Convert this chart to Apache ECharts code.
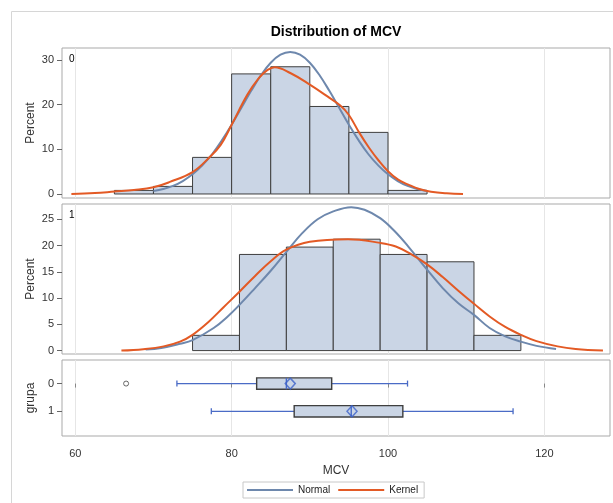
<!DOCTYPE html>
<html><head><meta charset="utf-8">
<script src="https://cdn.jsdelivr.net/npm/echarts@6/dist/echarts.min.js"></script>
<style>html,body{margin:0;padding:0;background:#fff}#c{width:613px;height:503px}</style>
</head><body><div id="c"></div>
<script>
// ---- data ----
const xTicks = [60, 80, 100, 120];
const yTicks0 = [0, 10, 20, 30];
const yTicks1 = [0, 5, 10, 15, 20, 25];
const groups = ['0', '1'];

const edges0 = [65, 70, 75, 80, 85, 90, 95, 100, 105];
const pct0 = [0.8, 1.7, 8.2, 26.9, 28.5, 19.6, 13.8, 0.8];
const edges1 = [75, 81, 87, 93, 99, 105, 111, 117];
const pct1 = [2.9, 18.3, 19.7, 21.2, 18.3, 16.9, 2.9];

const normal0X = [70,71.25,72.5,73.75,75,76.25,77.5,78.75,80,81.25,82.5,83.75,85,86.25,87.5,88.75,90,91.25,92.5,93.75,95,96.25,97.5,98.75,100,101.25,102.5,103.75,105];
const normal0Y = [0.65,1.1,1.8,2.9,4.4,6.4,8.9,12.0,15.5,19.3,23.1,26.6,29.4,31.2,31.8,31.2,29.4,26.6,23.1,19.3,15.5,12.0,8.9,6.4,4.4,2.9,1.8,1.1,0.65];
const kernel0X = [59.5,62.5,65,67.5,70,72.1,75,77.1,78.6,80,82,83.5,84.6,85.5,87.5,90,92.3,93.9,95,96.3,97.6,98.8,100,101.3,102.6,104,105.5,107.5,109.6];
const kernel0Y = [0,0.2,0.55,0.9,1.5,2.7,4.9,8.1,11.0,15.5,22.2,26.0,27.8,28.4,27.1,24.5,21.8,19.8,17.7,13.8,10.3,7.5,5.1,3.2,2.1,1.1,0.5,0.15,0];

const normal1X = [69,71,73.4,75,77.7,79.5,81,83,85,87,89,91,93,95.3,97,99,100.8,102.6,105,107,109,111,113,115,117,119,121.5];
const normal1Y = [0.2,0.5,1.3,2.0,4.3,6.5,8.7,11.9,15.2,18.8,22.3,25.0,26.5,27.3,26.8,25.2,22.8,19.8,15.4,11.9,9.0,6.8,4.3,2.7,1.7,0.9,0.3];
const kernel1X = [65.9,68.7,71.3,73.4,75,77,79,81,83,85,87,90,94.9,99,101,103,105,107,109,111,113,115,117,119,121.7,124,127.5];
const kernel1Y = [0,0.27,0.8,1.7,3.0,5.4,8.3,11.2,14.2,17.0,19.2,20.7,21.2,20.5,19.8,18.3,16.4,14.0,11.4,8.9,6.5,4.5,3.0,1.8,0.8,0.3,0];

const whiskerLow = [73.0, 77.4];
const q1 = [83.2, 88.0];
const median = [87.0, 95.3];
const q3 = [92.8, 101.9];
const whiskerHigh = [102.5, 116.0];
const means = [87.5, 95.4];
const outliers = [[66.5, 0]];

// ---- styles / layout ----
const FONT = 'Liberation Sans, Arial, sans-serif';
const BLUE = '#6e88ad', ORANGE = '#e35a25', FILL = '#cad5e5', EDGE = '#3f3f3f';
const WHISK = '#4a6bc6', FRAME = '#a9a9a9', GRIDC = '#e6e6e6';
const XMIN = 58.3, XMAX = 128.4;
const yRanges = [[-0.9, 32.7], [-0.65, 27.9], [-0.85, 1.89]];

const pairs = (xs, ys) => xs.map((x, i) => [x, ys[i]]);
const bins = (edges, vals) => vals.map((v, i) => [edges[i], edges[i + 1], v]);

function histItem(params, api) {
  const p0 = api.coord([api.value(0), 0]);
  const p1 = api.coord([api.value(1), api.value(2)]);
  return { type: 'rect', shape: { x: p0[0], y: p1[1], width: p1[0] - p0[0], height: p0[1] - p1[1] },
    style: { fill: FILL, stroke: EDGE, lineWidth: 1 } };
}
function boxItem(params, api) {
  const y = api.value(0);
  const pL = api.coord([api.value(1), y]), pA = api.coord([api.value(2), y]),
        pM = api.coord([api.value(3), y]), pB = api.coord([api.value(4), y]),
        pH = api.coord([api.value(5), y]);
  const hh = 5.7, cap = 3;
  const ws = { stroke: WHISK, lineWidth: 1.3 };
  return { type: 'group', children: [
    { type: 'line', shape: { x1: pL[0], y1: pL[1], x2: pA[0], y2: pA[1] }, style: ws },
    { type: 'line', shape: { x1: pB[0], y1: pB[1], x2: pH[0], y2: pH[1] }, style: ws },
    { type: 'line', shape: { x1: pL[0], y1: pL[1] - cap, x2: pL[0], y2: pL[1] + cap }, style: ws },
    { type: 'line', shape: { x1: pH[0], y1: pH[1] - cap, x2: pH[0], y2: pH[1] + cap }, style: ws },
    { type: 'rect', shape: { x: pA[0], y: pA[1] - hh, width: pB[0] - pA[0], height: 2 * hh },
      style: { fill: FILL, stroke: EDGE, lineWidth: 1.4 } },
    { type: 'line', shape: { x1: pM[0], y1: pM[1] - hh, x2: pM[0], y2: pM[1] + hh }, style: { stroke: WHISK, lineWidth: 1.4 } }
  ] };
}

const grids = [
  { left: 62, right: 3, top: 48, height: 150 },
  { left: 62, right: 3, top: 204, height: 150 },
  { left: 62, right: 3, top: 360, height: 76 }
].map(g => Object.assign(g, { show: true, borderColor: FRAME, borderWidth: 1, backgroundColor: 'transparent', containLabel: false }));

const labelStyle = { color: '#333', fontSize: 11, fontFamily: FONT };
const nameStyle = { color: '#333', fontSize: 12, fontFamily: FONT };

const xAxes = [0, 1, 2].map(i => ({
  type: 'value', gridIndex: i, min: XMIN, max: XMAX,
  axisLine: { show: false },
  splitLine: { show: true, lineStyle: { color: GRIDC, width: 1 } },
  axisTick: { show: i === 2, customValues: xTicks, length: 4, lineStyle: { color: '#888' } },
  axisLabel: Object.assign({ show: i === 2, customValues: xTicks, margin: 12 }, labelStyle),
  name: i === 2 ? 'MCV' : '', nameLocation: 'middle', nameGap: 29, nameMoveOverlap: false, nameTextStyle: nameStyle
}));

function yAxis(i, ticks, name, inverse) {
  return {
    type: 'value', gridIndex: i, min: yRanges[i][0], max: yRanges[i][1], inverse: !!inverse,
    axisLine: { show: false }, splitLine: { show: false },
    axisTick: { show: true, customValues: ticks, length: 5, lineStyle: { color: '#666' } },
    axisLabel: Object.assign({ show: true, customValues: ticks, margin: 8 }, labelStyle),
    name: name, nameLocation: 'middle', nameGap: 25, nameMoveOverlap: false, nameTextStyle: nameStyle
  };
}

const series = [];
series.push({ type: 'custom', name: 'hist0', xAxisIndex: 0, yAxisIndex: 0, z: 2, renderItem: histItem,
  data: bins(edges0, pct0), encode: { x: [0, 1], y: 2 } });
series.push({ type: 'custom', name: 'hist1', xAxisIndex: 1, yAxisIndex: 1, z: 2, renderItem: histItem,
  data: bins(edges1, pct1), encode: { x: [0, 1], y: 2 } });
const lineOpts = (name, color, xi, data) => ({
  type: 'line', name: name, xAxisIndex: xi, yAxisIndex: xi, data: data, smooth: 0.4,
  showSymbol: false, symbol: 'none', z: 3, color: color,
  lineStyle: { color: color, width: 2 }
});
series.push(lineOpts('Normal', BLUE, 0, pairs(normal0X, normal0Y)));
series.push(lineOpts('Kernel', ORANGE, 0, pairs(kernel0X, kernel0Y)));
series.push(lineOpts('Normal', BLUE, 1, pairs(normal1X, normal1Y)));
series.push(lineOpts('Kernel', ORANGE, 1, pairs(kernel1X, kernel1Y)));
series.push({ type: 'custom', name: 'box', xAxisIndex: 2, yAxisIndex: 2, z: 2, renderItem: boxItem,
  data: groups.map((g, i) => [i, whiskerLow[i], q1[i], median[i], q3[i], whiskerHigh[i]]),
  encode: { y: 0, x: [1, 2, 3, 4, 5] } });
series.push({ type: 'scatter', name: 'mean', xAxisIndex: 2, yAxisIndex: 2, z: 4,
  data: means.map((m, i) => [m, i]), symbol: 'diamond', symbolSize: [10, 11],
  itemStyle: { color: 'rgba(0,0,0,0)', borderColor: '#3d63c9', borderWidth: 1.5 } });
series.push({ type: 'scatter', name: 'outlier', xAxisIndex: 2, yAxisIndex: 2, z: 4,
  data: outliers, symbol: 'circle', symbolSize: 5,
  itemStyle: { color: '#fff', borderColor: '#444', borderWidth: 1 } });

const option = {
  animation: false,
  textStyle: { fontFamily: FONT },
  grid: grids,
  xAxis: xAxes,
  yAxis: [
    yAxis(0, yTicks0, 'Percent'),
    yAxis(1, yTicks1, 'Percent'),
    Object.assign(yAxis(2, [0, 1], 'grupa', true),
      { axisLabel: Object.assign({ show: true, customValues: [0, 1], margin: 8, formatter: v => groups[Math.round(v)] }, labelStyle) })
  ],
  legend: {
    data: ['Normal', 'Kernel'], left: 243, top: 482, icon: 'rect', itemWidth: 46, itemHeight: 2,
    itemGap: 8, padding: [3, 6, 3, 4], borderColor: '#c8c8c8', borderWidth: 1,
    textStyle: { fontSize: 10, color: '#222', fontFamily: FONT }, selectedMode: false
  },
  graphic: [
    { type: 'rect', silent: true, z: -10, shape: { x: 11.5, y: 11.5, width: 700, height: 600 },
      style: { fill: null, stroke: '#d6d6d6', lineWidth: 1 } },
    { type: 'text', x: 336, y: 32, style: { text: 'Distribution of MCV', font: 'bold 14px ' + FONT,
      fill: '#000', textAlign: 'center', textVerticalAlign: 'middle' } },
    { type: 'text', x: 69, y: 59, style: { text: '0', font: '10px ' + FONT, fill: '#000', textVerticalAlign: 'middle' } },
    { type: 'text', x: 69, y: 215, style: { text: '1', font: '10px ' + FONT, fill: '#000', textVerticalAlign: 'middle' } }
  ],
  series: series
};
const chart = echarts.init(document.getElementById('c'), null, { renderer: 'canvas' });
chart.setOption(option);
</script></body></html>
